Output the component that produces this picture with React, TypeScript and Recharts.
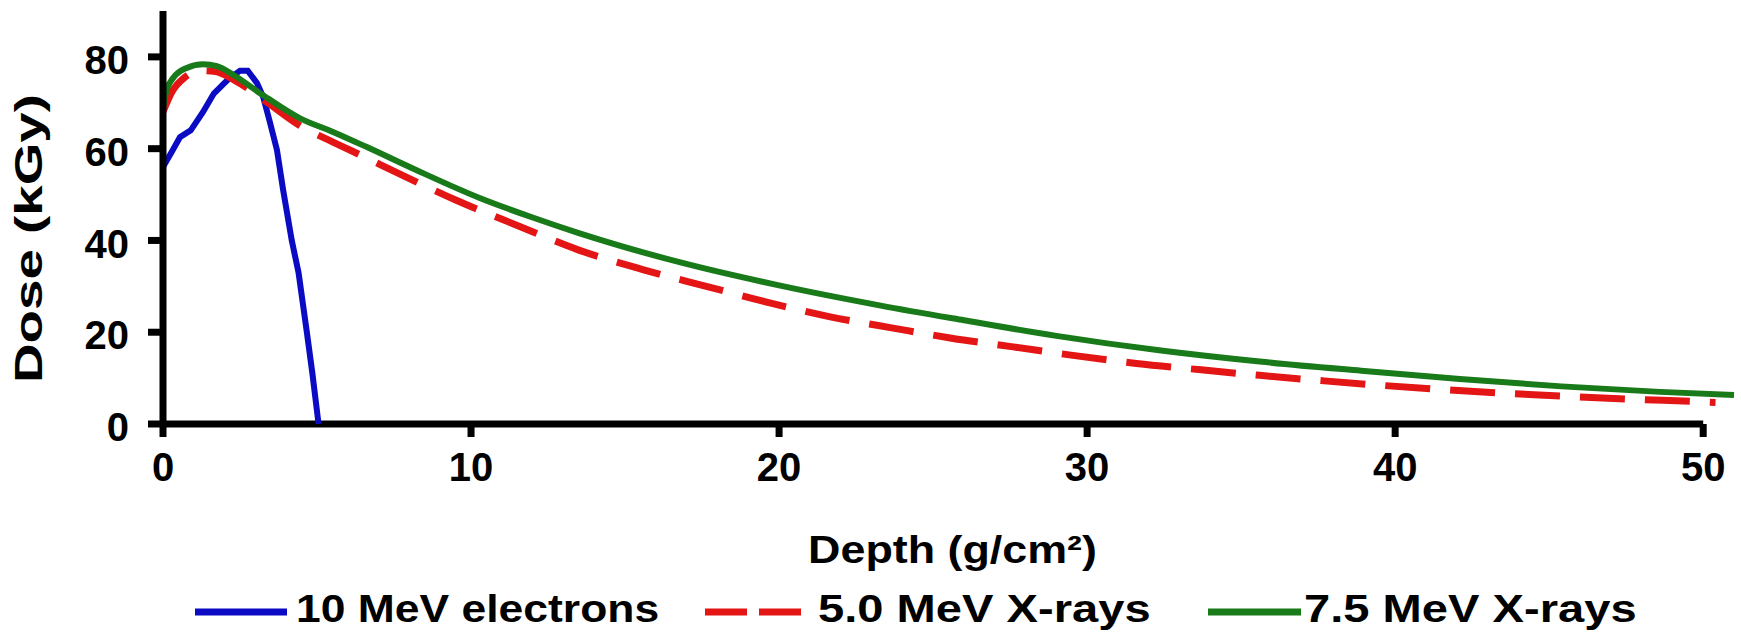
import React from 'react';
import { LineChart, Line, XAxis, YAxis, Legend, ReferenceLine, Label } from 'recharts';

// depth (g/cm²) and dose (kGy)
const electronDepth = [0, 0.3, 0.55, 0.9, 1.3, 1.65, 2.1, 2.5, 2.75, 3.05, 3.25, 3.45, 3.7, 3.9, 4.18, 4.4, 4.67, 4.85, 5.05];
const electronDose = [56, 59.5, 62.5, 64, 68, 72, 75, 77, 77, 74.3, 71.3, 66.3, 59.7, 51, 40, 33, 20, 11, 0];

const xray50Depth = [0, 0.3, 0.7, 1.2, 1.7, 2.3, 3.4, 4.45, 5.5, 6.1, 7.0, 9.5, 11.6, 13.5, 15.6, 17.7, 19.7, 21.7, 23.7, 25.6, 27.6, 29.6, 31.6, 33.7, 35.6, 37.7, 39.6, 41.6, 43.6, 45.7, 47.7, 49.7, 50.4];
const xray50Dose = [68, 72.5, 75.5, 77, 76.8, 75, 70, 65, 61.5, 59.6, 56.7, 48.8, 43, 37.9, 33.6, 29.9, 26.4, 23.3, 20.9, 18.7, 16.8, 14.9, 13.2, 11.8, 10.6, 9.4, 8.4, 7.5, 6.7, 6.0, 5.4, 4.9, 4.7];

const xray75Depth = [0, 0.12, 0.33, 0.77, 1.3, 1.75, 2.3, 3.15, 4.45, 5.5, 6.6, 8.2, 10.3, 12, 13.5, 16.8, 20, 23.3, 26, 29, 32.4, 35.6, 38.9, 42.1, 45.4, 48.6, 51];
const xray75Dose = [68.9, 72.8, 75.4, 77.6, 78.4, 78, 76, 72.1, 66.6, 63.7, 60.4, 55.4, 49.2, 45.0, 41.6, 35.2, 30.2, 25.8, 22.6, 19.2, 16.0, 13.6, 11.6, 9.8, 8.2, 7.0, 6.3];

const xTicks = [0, 10, 20, 30, 40, 50];
const yTicks = [0, 20, 40, 60, 80];

const seriesNames = ['10 MeV electrons', '5.0 MeV X-rays', '7.5 MeV X-rays'];

const zip = (xs: number[], ys: number[]) => xs.map((depth, i) => ({ depth, dose: ys[i] }));

const electronData = zip(electronDepth, electronDose);
const xray50Data = zip(xray50Depth, xray50Dose);
const xray75Data = zip(xray75Depth, xray75Dose);

const FONT = '"Liberation Sans", Arial, sans-serif';
const BLUE = '#0b0bc4';
const RED = '#e31515';
const GREEN = '#187a18';

const legendItems = [
    { name: seriesNames[0], color: BLUE, dash: undefined, x: 195, len: 92, textX: 296, sx: 1.17 },
    { name: seriesNames[1], color: RED, dash: '42 12', x: 705, len: 96, textX: 818, sx: 1.24 },
    { name: seriesNames[2], color: GREEN, dash: undefined, x: 1208, len: 93, textX: 1304, sx: 1.24 },
];

function renderLegend() {
    return (
        <svg width={1741} height={45} style={{ display: 'block' }}>
            {legendItems.map((item) => (
                <g key={item.name}>
                    <line
                        x1={item.x}
                        y1={25}
                        x2={item.x + item.len}
                        y2={25}
                        stroke={item.color}
                        strokeWidth={7}
                        strokeDasharray={item.dash}
                    />
                    <text
                        transform={`translate(${item.textX}, 35) scale(${item.sx}, 1)`}
                        fontFamily={FONT}
                        fontWeight="bold"
                        fontSize={38}
                        fill="#000"
                    >
                        {item.name}
                    </text>
                </g>
            ))}
        </svg>
    );
}

const XTitle = (props: any) => {
    const vb = props.viewBox;
    return (
        <text
            transform={`translate(${vb.x + vb.width / 2 + 4}, ${vb.y + 139}) scale(1.18, 1)`}
            textAnchor="middle"
            fontFamily={FONT}
            fontWeight="bold"
            fontSize={38}
            fill="#000"
        >
            Depth (g/cm²)
        </text>
    );
};

const YTitle = (props: any) => {
    const vb = props.viewBox;
    return (
        <text
            transform={`translate(42, ${vb.y + vb.height / 2 + 21}) rotate(-90) scale(1.44, 1)`}
            textAnchor="middle"
            fontFamily={FONT}
            fontWeight="bold"
            fontSize={38}
            fill="#000"
        >
            Dose (kGy)
        </text>
    );
};

export default function App() {
    return (
        <div style={{ position: 'absolute', left: 0, top: 0, background: '#fff' }}>
            <LineChart
                width={1741}
                height={632}
                margin={{ top: 11, right: 7, left: 0, bottom: 0 }}
            >
                <XAxis
                    type="number"
                    dataKey="depth"
                    domain={[0, 51]}
                    ticks={xTicks}
                    height={208}
                    axisLine={false}
                    tickSize={13}
                    tickMargin={16}
                    tickLine={{ stroke: '#000', strokeWidth: 7 }}
                    tick={{ fill: '#000', fontSize: 40, fontWeight: 'bold', fontFamily: FONT }}
                >
                    <Label content={<XTitle />} position="bottom" />
                </XAxis>
                <YAxis
                    type="number"
                    domain={[0, 90]}
                    ticks={yTicks}
                    width={163}
                    tickSize={15}
                    tickMargin={19}
                    axisLine={{ stroke: '#000', strokeWidth: 7 }}
                    tickLine={{ stroke: '#000', strokeWidth: 7 }}
                    tick={{ fill: '#000', fontSize: 40, fontWeight: 'bold', fontFamily: FONT, dy: 3 }}
                >
                    <Label content={<YTitle />} position="left" />
                </YAxis>
                <ReferenceLine
                    segment={[{ x: 0, y: 0 }, { x: 50, y: 0 }]}
                    stroke="#000"
                    strokeWidth={7}
                />
                <Legend
                    layout="horizontal"
                    verticalAlign="middle"
                    align="center"
                    content={renderLegend}
                    wrapperStyle={{ top: 587, left: 0, width: 1741, height: 45 }}
                />
                <Line
                    data={electronData}
                    dataKey="dose"
                    name={seriesNames[0]}
                    type="linear"
                    stroke={BLUE}
                    strokeWidth={6}
                    dot={false}
                    isAnimationActive={false}
                />
                <Line
                    data={xray50Data}
                    dataKey="dose"
                    name={seriesNames[1]}
                    type="monotone"
                    stroke={RED}
                    strokeWidth={7}
                    strokeDasharray="45 20"
                    dot={false}
                    isAnimationActive={false}
                />
                <Line
                    data={xray75Data}
                    dataKey="dose"
                    name={seriesNames[2]}
                    type="monotone"
                    stroke={GREEN}
                    strokeWidth={6}
                    dot={false}
                    isAnimationActive={false}
                />
            </LineChart>
        </div>
    );
}
